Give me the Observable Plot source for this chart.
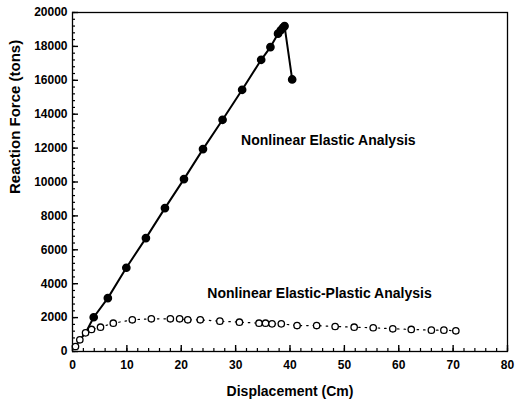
<!DOCTYPE html>
<html><head><meta charset="utf-8">
<script src="https://cdn.jsdelivr.net/npm/d3@7"></script>
<script src="https://cdn.jsdelivr.net/npm/@observablehq/plot@0.6"></script>
<style>
body{margin:0;background:#fff;color:#000}
svg{font-family:"Liberation Sans",Arial,sans-serif;background:#fff;color:#000}
g[aria-label="x-axis label"] text{font-size:14px}
</style>
</head><body><div id="chart"></div>
<script>
// Nonlinear elastic analysis (first three points are line-only, shared with the start of the curve)
const elasticX = [0.55, 1.35, 2.4, 3.9, 6.5, 9.9, 13.5, 17.0, 20.5, 24.0, 27.6, 31.2, 34.7, 36.4, 37.8, 38.3, 38.7, 39.0, 40.4];
const elasticY = [295, 690, 1100, 2020, 3150, 4940, 6690, 8460, 10170, 11940, 13670, 15440, 17210, 17960, 18750, 18950, 19100, 19200, 16050];
const elasticFirstDot = 3;

// Nonlinear elastic-plastic analysis
const plasticX = [0.55, 1.35, 2.4, 3.5, 5.15, 7.5, 11.0, 14.5, 18.0, 19.7, 21.2, 23.5, 27.1, 30.7, 34.3, 35.5, 36.7, 38.4, 41.3, 44.9, 48.3, 51.8, 55.3, 58.9, 62.3, 66.0, 68.3, 70.5];
const plasticY = [295, 690, 1100, 1300, 1435, 1670, 1870, 1930, 1930, 1930, 1870, 1870, 1790, 1730, 1670, 1670, 1630, 1630, 1530, 1530, 1475, 1435, 1400, 1340, 1300, 1260, 1260, 1220];

const xTicks = [0, 10, 20, 30, 40, 50, 60, 70, 80];
const yTicks = [0, 2000, 4000, 6000, 8000, 10000, 12000, 14000, 16000, 18000, 20000];
const xMinor = d3.range(0, 80.001, 2);
const yMinor = d3.range(0, 20000.1, 400);

const annoText = ["Nonlinear Elastic Analysis", "Nonlinear Elastic-Plastic Analysis"];
const annoX = [31.0, 24.8];
const annoY = [12450, 3440];

const xLabel = "Displacement (Cm)";
const yLabel = "Reaction Force (tons)";

const elastic = elasticX.map((x, i) => ({x, y: elasticY[i], i}));
const plastic = plasticX.map((x, i) => ({x, y: plasticY[i]}));
const anno = annoText.map((t, i) => ({t, x: annoX[i], y: annoY[i]}));

// layout (pixels)
const W = 516, H = 407, mL = 72, mR = 9, mT = 12, mB = 56;
const innerW = W - mL - mR, innerH = H - mT - mB;
const minorLen = 3, majorLen = 6;

const chart = Plot.plot({
  width: W, height: H,
  marginLeft: mL, marginRight: mR, marginTop: mT, marginBottom: mB,
  x: {domain: [0, 80]},
  y: {domain: [0, 20000]},
  marks: [
    // inward tick marks drawn as short rules at the frame edges
    Plot.ruleX(xMinor, {x: d => d, insetTop: innerH - minorLen, stroke: "black", strokeWidth: 1.2}),
    Plot.ruleX(xTicks, {x: d => d, insetTop: innerH - majorLen, stroke: "black", strokeWidth: 1.4}),
    Plot.ruleY(yMinor, {y: d => d, insetRight: innerW - minorLen, stroke: "black", strokeWidth: 1.2}),
    Plot.ruleY(yTicks, {y: d => d, insetRight: innerW - majorLen, stroke: "black", strokeWidth: 1.4}),
    Plot.frame({stroke: "black", strokeWidth: 1.3}),
    // tick labels
    Plot.axisX(xTicks, {tickSize: 0, tickPadding: 9, fontSize: 12, fontWeight: "bold", fill: "black", label: xLabel, labelAnchor: "center", labelArrow: "none", labelOffset: 44, tickFormat: d3.format("d")}),
    Plot.axisY(yTicks, {tickSize: 0, tickPadding: 5, fontSize: 12, fontWeight: "bold", fill: "black", label: null, tickFormat: d3.format("d")}),
    Plot.text([yLabel], {frameAnchor: "left", rotate: -90, dx: -57, dy: 12, fontSize: 15, fontWeight: "bold", fill: "black"}),
    Plot.line(plastic, {x: "x", y: "y", stroke: "black", strokeWidth: 1.2, strokeDasharray: "1.5,5"}),
    Plot.line(elastic, {x: "x", y: "y", stroke: "black", strokeWidth: 2}),
    Plot.dot(plastic, {x: "x", y: "y", r: 3.2, stroke: "black", strokeWidth: 1.3, fill: "white"}),
    Plot.dot(elastic, {filter: d => d.i >= elasticFirstDot, x: "x", y: "y", r: 3.6, fill: "black", stroke: "black"}),
    Plot.text(anno, {x: "x", y: "y", text: "t", textAnchor: "start", fontSize: 14, fontWeight: "bold", fill: "black"})
  ]
});
document.getElementById("chart").appendChild(chart);
</script>
</body></html>
